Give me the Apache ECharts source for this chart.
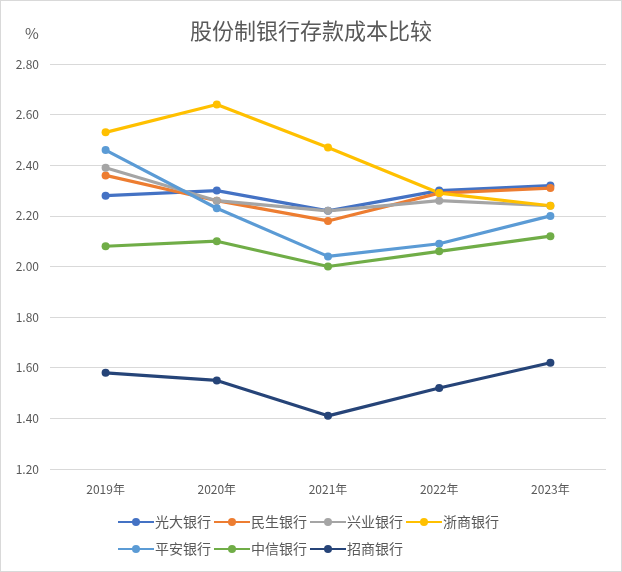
<!DOCTYPE html>
<html><head><meta charset="utf-8">
<script src="https://cdn.jsdelivr.net/npm/echarts@6/dist/echarts.min.js"></script>
<style>html,body{margin:0;padding:0;background:#fff}#c{width:620px;height:570px;border:1px solid #d9d9d9}</style>
</head><body><div id="c"></div>
<script>
const categories = ['2019年','2020年','2021年','2022年','2023年'];
const seriesNames = ['光大银行','民生银行','兴业银行','浙商银行','平安银行','中信银行','招商银行'];
const guangda = [2.28, 2.30, 2.22, 2.30, 2.32];
const minsheng = [2.36, 2.26, 2.18, 2.29, 2.31];
const xingye = [2.39, 2.26, 2.22, 2.26, 2.24];
const zheshang = [2.53, 2.64, 2.47, 2.29, 2.24];
const pingan = [2.46, 2.23, 2.04, 2.09, 2.20];
const zhongxin = [2.08, 2.10, 2.00, 2.06, 2.12];
const zhaoshang = [1.58, 1.55, 1.41, 1.52, 1.62];
const allData = [guangda, minsheng, xingye, zheshang, pingan, zhongxin, zhaoshang];
const colors = ['#4472C4','#ED7D31','#A5A5A5','#FFC000','#5B9BD5','#70AD47','#264478'];
const font = '"Noto Sans CJK SC", "Noto Sans", sans-serif';
const legendCommon = {left: 116, itemWidth: 36, itemHeight: 10, itemGap: 2, padding: 0,
  textStyle: {fontSize: 14, color: '#595959', fontFamily: font, padding: [0,0,0,-4]}};
const chart = echarts.init(document.getElementById('c'));
chart.setOption({
  animation: false,
  color: colors,
  textStyle: {fontFamily: font},
  title: [{text: '股份制银行存款成本比较', left: 'center', top: 14, textStyle: {fontSize: 22, fontWeight: 'normal', color: '#595959', fontFamily: font}},
          {text: '%', left: 19, top: 20, textStyle: {fontSize: 15, fontWeight: 'normal', color: '#595959', fontFamily: font}}],
  grid: {left: 49, right: 15, top: 63, bottom: 102},
  legend: [Object.assign({top: 514, data: seriesNames.slice(0, 4)}, legendCommon),
           Object.assign({top: 541, data: seriesNames.slice(4)}, legendCommon)],
  xAxis: {type: 'category', data: categories, boundaryGap: true,
          axisLine: {show: false}, axisTick: {show: false},
          axisLabel: {color: '#595959', fontSize: 12, margin: 14, fontFamily: font}},
  yAxis: {type: 'value', min: 1.2, max: 2.8, interval: 0.2,
          axisLine: {show: false}, axisTick: {show: false},
          axisLabel: {color: '#595959', fontSize: 12, margin: 11, formatter: v => v.toFixed(2), fontFamily: font},
          splitLine: {lineStyle: {color: '#d9d9d9', width: 1}}},
  series: seriesNames.map((n, i) => ({
    name: n, type: 'line', data: allData[i], symbol: 'circle', symbolSize: 8,
    lineStyle: {width: 3.2, color: colors[i]}, itemStyle: {color: colors[i]}
  }))
});
</script></body></html>
